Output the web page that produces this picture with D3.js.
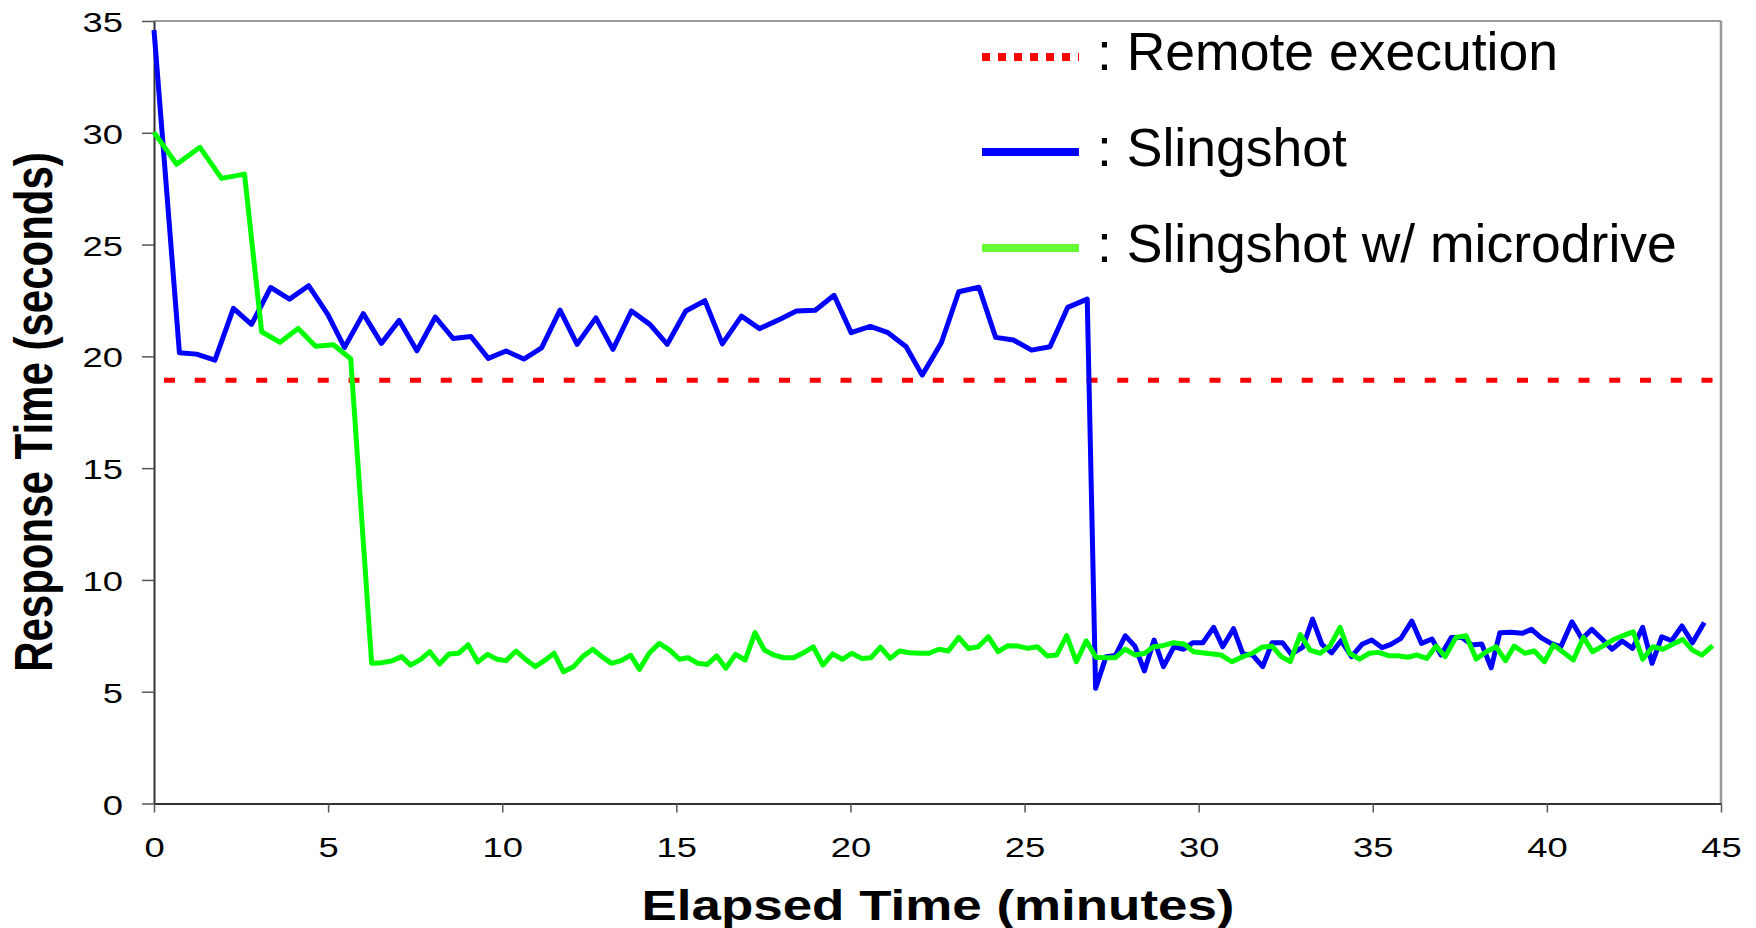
<!DOCTYPE html>
<html>
<head>
<meta charset="utf-8">
<script src="https://cdn.jsdelivr.net/npm/d3@7"></script>
<style>
body { margin: 0; background: #fff; }
svg { display: block; }
text { font-family: "Liberation Sans", Arial, sans-serif; }
</style>
</head>
<body>
<div id="chart"></div>
<script>
/*globals d3 */
// response time over the run
var xTicks = [0, 5, 10, 15, 20, 25, 30, 35, 40, 45];
var yTicks = [0, 5, 10, 15, 20, 25, 30, 35];
var remoteExec = 18.93;

var slingTime = [0, 0.73, 1.22, 1.75, 2.28, 2.80, 3.35, 3.89, 4.44, 4.99, 5.47, 6.01, 6.53, 7.04, 7.55, 8.08, 8.59, 9.10, 9.60, 10.11,
	10.62, 11.13, 11.66, 12.15, 12.69, 13.18, 13.71, 14.24, 14.74, 15.27, 15.82, 16.32, 16.87, 17.39, 17.92, 18.45, 18.99, 19.53, 20.02, 20.57,
	21.08, 21.60, 22.06, 22.61, 23.11, 23.69, 24.17, 24.68, 25.20, 25.73, 26.24, 26.80, 27.04, 27.34, 27.61, 27.89, 28.17, 28.44, 28.72, 28.99,
	29.29, 29.57, 29.83, 30.12, 30.43, 30.69, 31.00, 31.27, 31.55, 31.84, 32.11, 32.41, 32.66, 32.99, 33.27, 33.54, 33.82, 34.09, 34.39, 34.69,
	34.97, 35.27, 35.52, 35.81, 36.12, 36.40, 36.70, 36.96, 37.26, 37.56, 37.85, 38.13, 38.40, 38.65, 38.97, 39.29, 39.56, 39.83, 40.12, 40.40,
	40.72, 41.01, 41.29, 41.58, 41.87, 42.16, 42.46, 42.75, 43.02, 43.30, 43.58, 43.88, 44.18, 44.52];
var slingVals = [34.6, 20.16, 20.10, 19.83, 22.15, 21.43, 23.08, 22.56, 23.16, 21.88, 20.40, 21.91, 20.58, 21.61, 20.25, 21.76, 20.80, 20.89, 19.91, 20.24,
	19.88, 20.38, 22.07, 20.54, 21.72, 20.31, 22.03, 21.43, 20.54, 22.03, 22.49, 20.56, 21.80, 21.24, 21.62, 22.03, 22.06, 22.73, 21.06, 21.34,
	21.06, 20.43, 19.16, 20.61, 22.89, 23.09, 20.85, 20.73, 20.28, 20.43, 22.19, 22.56, 5.15, 6.57, 6.62, 7.50, 7.04, 5.93, 7.31, 6.12,
	7.01, 6.90, 7.19, 7.19, 7.88, 7.01, 7.82, 6.69, 6.64, 6.12, 7.19, 7.19, 6.68, 6.99, 8.25, 7.12, 6.74, 7.28, 6.57, 7.12,
	7.31, 6.97, 7.12, 7.39, 8.16, 7.16, 7.36, 6.64, 7.43, 7.43, 7.09, 7.13, 6.07, 7.64, 7.66, 7.61, 7.79, 7.42, 7.16, 7.01,
	8.13, 7.36, 7.79, 7.36, 6.90, 7.27, 6.94, 7.88, 6.27, 7.46, 7.28, 7.94, 7.19, 8.10];

var microTime = [0, 0.65, 1.32, 1.94, 2.60, 3.09, 3.62, 4.14, 4.64, 5.15, 5.65, 6.25, 6.55, 6.82, 7.11, 7.37, 7.66, 7.92, 8.20, 8.47,
	8.74, 9.02, 9.30, 9.58, 9.85, 10.11, 10.40, 10.67, 10.95, 11.21, 11.49, 11.76, 12.05, 12.31, 12.60, 12.86, 13.14, 13.41, 13.69, 13.94,
	14.23, 14.51, 14.81, 15.09, 15.34, 15.62, 15.89, 16.16, 16.42, 16.70, 16.98, 17.26, 17.53, 17.80, 18.09, 18.37, 18.65, 18.93, 19.21, 19.49,
	19.77, 20.04, 20.32, 20.59, 20.86, 21.14, 21.41, 21.70, 21.99, 22.26, 22.54, 22.81, 23.11, 23.39, 23.67, 23.96, 24.24, 24.52, 24.81, 25.10,
	25.37, 25.65, 25.92, 26.21, 26.49, 26.77, 27.05, 27.32, 27.61, 27.89, 28.18, 28.45, 28.70, 28.97, 29.28, 29.60, 29.85, 30.65, 30.95, 31.27,
	31.54, 31.82, 32.11, 32.37, 32.63, 32.92, 33.20, 33.49, 33.77, 34.06, 34.33, 34.62, 34.90, 35.17, 35.45, 35.72, 36.00, 36.27, 36.55, 36.82,
	37.08, 37.39, 37.68, 37.97, 38.26, 38.54, 38.81, 39.06, 39.37, 39.64, 39.93, 40.19, 40.47, 40.76, 41.05, 41.31, 41.60, 41.89, 42.17, 42.48,
	42.75, 43.04, 43.33, 43.61, 43.90, 44.18, 44.45, 44.76];
var microVals = [30.02, 28.59, 29.35, 27.96, 28.15, 21.10, 20.63, 21.25, 20.45, 20.52, 19.89, 6.27, 6.30, 6.37, 6.57, 6.19, 6.45, 6.79, 6.24, 6.69,
	6.72, 7.10, 6.33, 6.67, 6.45, 6.39, 6.82, 6.45, 6.12, 6.39, 6.72, 5.89, 6.12, 6.57, 6.90, 6.57, 6.27, 6.39, 6.63, 6.00,
	6.74, 7.16, 6.86, 6.45, 6.52, 6.27, 6.22, 6.60, 6.05, 6.67, 6.42, 7.64, 6.86, 6.64, 6.52, 6.52, 6.74, 7.01, 6.19, 6.69,
	6.45, 6.72, 6.49, 6.52, 6.99, 6.49, 6.82, 6.74, 6.72, 6.72, 6.90, 6.82, 7.43, 6.93, 7.01, 7.46, 6.79, 7.06, 7.04, 6.94,
	7.01, 6.60, 6.64, 7.51, 6.34, 7.28, 6.54, 6.52, 6.52, 6.90, 6.64, 6.72, 7.01, 7.06, 7.19, 7.12, 6.79, 6.64, 6.34, 6.57,
	6.72, 6.99, 7.04, 6.57, 6.35, 7.55, 6.86, 6.72, 7.04, 7.88, 6.72, 6.46, 6.72, 6.76, 6.61, 6.61, 6.54, 6.64, 6.49, 7.04,
	6.57, 7.43, 7.50, 6.46, 6.79, 7.01, 6.39, 7.04, 6.72, 6.82, 6.34, 7.09, 6.76, 6.42, 7.43, 6.79, 7.04, 7.31, 7.50, 7.68,
	6.46, 7.01, 6.90, 7.12, 7.34, 6.86, 6.64, 7.06];

var legendLabels = [": Remote execution", ": Slingshot", ": Slingshot w/ microdrive"];

(function() {
	"use strict";
	var W = 1756, H = 928;
	var stretch = 1.3; // the original figure was pulled wider than tall

	var svg = d3.select("#chart").append("svg")
		.attr("width", W)
		.attr("height", H);
	svg.append("rect")
		.attr("width", W)
		.attr("height", H)
		.attr("fill", "#fff");

	var x = d3.scaleLinear().domain([0, 45]).range([154, 1721]);
	var y = d3.scaleLinear().domain([0, 35]).range([803.5, 21]);

	// frame: top and right are light grey
	svg.append("line")
		.attr("x1", x(0)).attr("x2", x(45))
		.attr("y1", y(35)).attr("y2", y(35))
		.attr("stroke", "#9a9a9a").attr("stroke-width", 2);
	svg.append("line")
		.attr("x1", x(45)).attr("x2", x(45))
		.attr("y1", y(35)).attr("y2", y(0))
		.attr("stroke", "#9a9a9a").attr("stroke-width", 2.5);

	var yAxis = svg.append("g")
		.attr("transform", "translate(" + x(0) + ",0)")
		.call(d3.axisLeft(y).tickValues(yTicks).tickSize(12).tickSizeOuter(0));
	var xAxis = svg.append("g")
		.attr("transform", "translate(0," + y(0) + ")")
		.call(d3.axisBottom(x).tickValues(xTicks).tickSize(9).tickSizeOuter(0));

	[yAxis, xAxis].forEach(function(g) {
		g.select(".domain").attr("stroke", "#333").attr("stroke-width", 2);
		g.selectAll(".tick line").attr("stroke", "#555").attr("stroke-width", 1.5);
		g.selectAll(".tick text")
			.attr("x", null).attr("y", null).attr("dy", null)
			.attr("fill", "#000")
			.style("font-size", "28px");
	});
	yAxis.selectAll(".tick text")
		.attr("text-anchor", "end")
		.attr("transform", "translate(-31,10.5) scale(" + stretch + ",1)");
	xAxis.selectAll(".tick text")
		.attr("text-anchor", "middle")
		.attr("transform", "translate(0,53) scale(" + stretch + ",1)");

	// axis titles
	svg.append("text")
		.attr("transform", "translate(938,920) scale(1.26,1)")
		.attr("text-anchor", "middle")
		.style("font-size", "42px")
		.style("font-weight", "bold")
		.text("Elapsed Time (minutes)");
	svg.append("text")
		.attr("transform", "translate(52,412) scale(1.26,1) rotate(-90)")
		.attr("text-anchor", "middle")
		.style("font-size", "42px")
		.style("font-weight", "bold")
		.text("Response Time (seconds)");

	// remote execution reference
	svg.append("line")
		.attr("x1", x(0)).attr("x2", 1713)
		.attr("y1", y(remoteExec)).attr("y2", y(remoteExec))
		.attr("stroke", "#ff0000")
		.attr("stroke-width", 5)
		.attr("stroke-dasharray", "11,19.75")
		.attr("stroke-dashoffset", 20.75);

	function series(times, vals) {
		return times.map(function(t, i) { return [t, vals[i]]; });
	}
	var line = d3.line()
		.x(function(d) { return x(d[0]); })
		.y(function(d) { return y(d[1]); });

	svg.append("path")
		.datum(series(slingTime, slingVals))
		.attr("d", line)
		.attr("fill", "none")
		.attr("stroke", "#0000ff")
		.attr("stroke-width", 5)
		.attr("stroke-linejoin", "round");
	svg.append("path")
		.datum(series(microTime, microVals))
		.attr("d", line)
		.attr("fill", "none")
		.attr("stroke", "#00ff00")
		.attr("stroke-width", 5)
		.attr("stroke-linejoin", "round");

	// legend (pasted on top of the chart, not stretched)
	var swatches = [
		{ y: 57, color: "#ff0000", dash: "8,8" },
		{ y: 152, color: "#0000ff", dash: null },
		{ y: 248, color: "#66ff33", dash: null }
	];
	var legend = svg.append("g");
	legend.selectAll("line").data(swatches).enter().append("line")
		.attr("x1", 982).attr("x2", 1079)
		.attr("y1", function(d) { return d.y; })
		.attr("y2", function(d) { return d.y; })
		.attr("stroke", function(d) { return d.color; })
		.attr("stroke-width", 8)
		.attr("stroke-dasharray", function(d) { return d.dash; });
	legend.selectAll("text").data(legendLabels).enter().append("text")
		.attr("x", 1097)
		.attr("y", function(d, i) { return 70 + i * 96; })
		.style("font-size", "53.5px")
		.attr("fill", "#000")
		.text(function(d) { return d; });
}());
</script>
</body>
</html>
